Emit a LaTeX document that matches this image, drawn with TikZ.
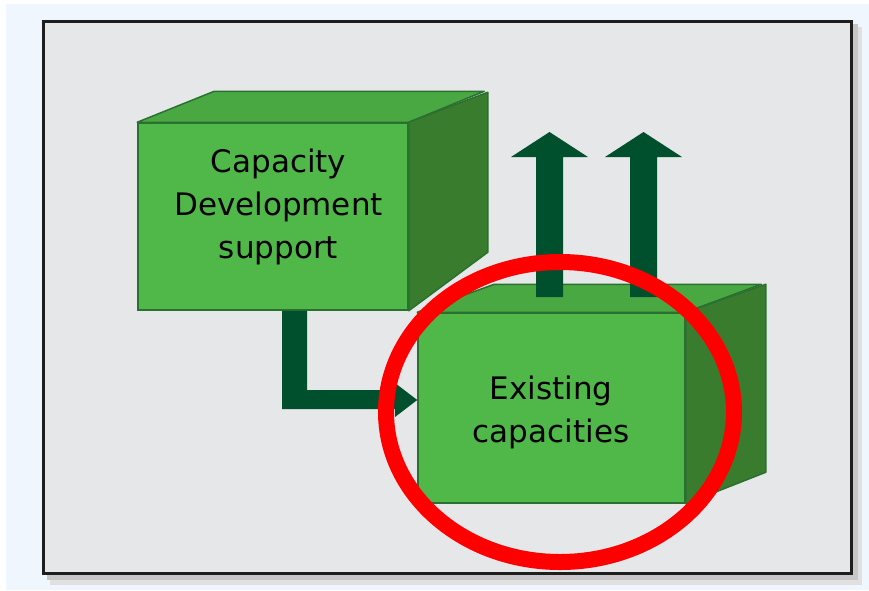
\documentclass[tikz,border=0pt]{standalone}
\usepackage{fontspec}
\setmainfont{DejaVu Sans}
\definecolor{bgblue}{RGB}{239,246,253}
\definecolor{framegray}{RGB}{230,231,233}
\definecolor{frameedge}{RGB}{30,30,30}
\definecolor{frontg}{RGB}{80,184,72}
\definecolor{topg}{RGB}{74,168,66}
\definecolor{sideg}{RGB}{58,124,45}
\definecolor{edgeg}{RGB}{42,112,48}
\definecolor{arrowg}{RGB}{0,80,45}
\definecolor{ringred}{RGB}{255,0,0}
\begin{document}
\begin{tikzpicture}[x=1pt,y=-1pt,
  frontc/.style={fill=frontg, draw=edgeg, line width=1.5pt},
  topc/.style={fill=topg, draw=edgeg, line width=1.5pt, line join=round},
  sidec/.style={fill=sideg, draw=edgeg, line width=1.5pt, line join=round},
  arrowc/.style={fill=arrowg},
  lbl/.style={font=\fontsize{31}{43}\selectfont, align=center, inner sep=0pt, text=black}]
\useasboundingbox (0,0) rectangle (869,590);
% background
\fill[white] (0,0) rectangle (869,590);
\fill[bgblue] (6,4) rectangle (869,590);
% frame shadow
\fill[black!12] (50,27) rectangle (862,585);
\fill[black!22] (47,24) rectangle (858,580);
\node[fill=framegray, draw=frameedge, line width=3pt, minimum width=808pt, minimum height=552pt, inner sep=0pt] (frame) at (447.5,297.5) {};
% box 2 (behind)
\node[frontc, minimum width=267pt, minimum height=190pt, inner sep=0pt] (box2) at (551.5,408) {};
\draw[topc] (box2.north west) -- ++(77,-28) -- ++(267,0) -- (box2.north east) -- cycle;
\draw[sidec] (box2.north east) -- ++(80,-28) -- ++(0,188) -- (box2.south east) -- cycle;
\node[lbl] (t2) at (551,412.5) {Existing\\capacities};
% up arrows on box 2
\coordinate (a1) at (549.5,297);
\coordinate (a2) at (643.5,297);
\fill[arrowc] (a1) ++(-13.5,0) -- ++(0,-140) -- ++(-25,0) -- ++(38.5,-25) -- ++(38.5,25) -- ++(-25,0) -- ++(0,140) -- cycle;
\fill[arrowc] (a2) ++(-13.5,0) -- ++(0,-140) -- ++(-25,0) -- ++(38.5,-25) -- ++(38.5,25) -- ++(-25,0) -- ++(0,140) -- cycle;
% box 1
\node[frontc, minimum width=270pt, minimum height=187pt, inner sep=0pt] (box1) at (273,216.5) {};
\draw[topc] (box1.north west) -- ++(77,-31) -- ++(270,0) -- (box1.north east) -- cycle;
\draw[sidec] (box1.north east) -- ++(79,-30) -- ++(0,160) -- (box1.south east) -- cycle;
\node[lbl] (t1) at (278.5,206.5) {Capacity\\Development\\support};
% bent arrow from box1 to box2
\fill[arrowc] (box1.south -| 282,0) -- (box1.south -| 307,0) -- (307,390) -- (395,390) -- (395,383) -- (box2.west |- 0,400) -- (395,417) -- (395,409) -- (282,409) -- cycle;
% red ellipse
\draw[ringred, line width=16pt] (560,412) ellipse [x radius=174pt, y radius=150pt];
\end{tikzpicture}
\end{document}
